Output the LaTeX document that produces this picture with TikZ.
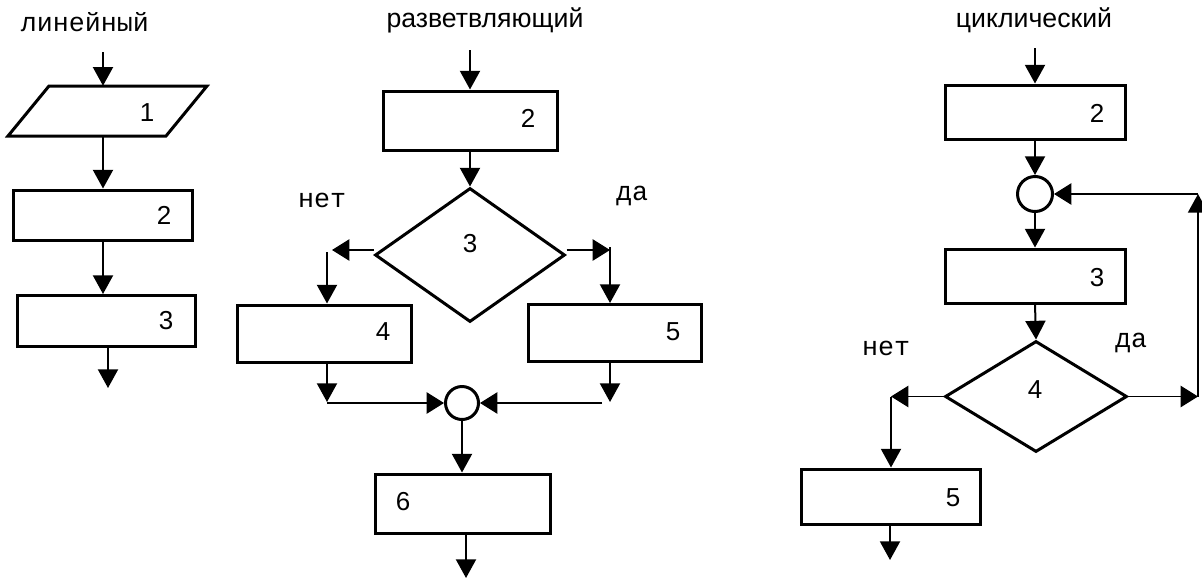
\documentclass[tikz,border=0pt]{standalone}
\usepackage{fontspec}
\setmainfont{Liberation Sans}
\newfontfamily\monofam{Liberation Mono}
\usetikzlibrary{arrows.meta,shapes.geometric}

\begin{document}
\begin{tikzpicture}[x=0.75pt,y=-0.75pt,
  box/.style={draw, line width=2.25pt, inner sep=0pt, line join=miter},
  sz/.style 2 args={minimum width=#1*0.75pt, minimum height=#2*0.75pt},
  num/.style={font=\fontsize{19.5}{22}\selectfont, inner sep=0pt},
  title/.style={font=\fontsize{20}{22}\selectfont, inner sep=0pt, anchor=base},
  yesno/.style={font=\monofam\fontsize{20}{22}\selectfont, inner sep=0pt, anchor=base},
  vline/.style={line width=1.5pt, -{Triangle[length=14pt,width=15pt]}},
  hline/.style={line width=1pt, -{Triangle[length=13pt,width=16pt]}},
  joint/.style={draw, circle, line width=2.25pt, inner sep=0pt}
]
\useasboundingbox (0,0) rectangle (1202,579);

% ---------- linear ----------
\node[yesno] (tlin) at (85,31.5) {линейный};
\coordinate (la) at (103,52);
\node[sz={158}{50}, inner sep=0pt] (p1) at (107.5,111) {};
\draw[line width=2.25pt, line join=miter] (49,86) -- (207,86) -- (166,136) -- (8,136) -- cycle;
\node[num] at (147,113) {1};
\draw[vline] (la) -- (la |- p1.north);
\node[box, sz={179}{50}] (l2) at (102.5,215) {};
\node[num] at (164,215) {2};
\draw[vline] (la |- p1.south) -- (la |- l2.north);
\node[box, sz={178}{51}] (l3) at (106.5,321) {};
\node[num] at (166,321) {3};
\draw[vline] (la |- l2.south) -- (la |- l3.north);
\coordinate (lz) at (108,388);
\draw[vline] (lz |- l3.south) -- (lz);

% ---------- branching ----------
\node[title] (tbr) at (485,27) {разветвляющий};
\coordinate (ma) at (470,50);
\node[box, sz={174}{59}] (m2) at (470,120.5) {};
\node[num] at (528,118) {2};
\draw[vline] (ma) -- (m2.north);
\node[box, diamond, sz={190}{134}] (m3) at (470,255) {};
\node[num] at (470,244) {3};
\draw[vline] (m2.south) -- (m3.north);
\node[yesno] at (322,207) {нет};
\node[yesno] at (632,200) {да};
% no branch
\coordinate (mLt) at (332,250);
\draw[hline] (m3.west |- mLt) -- (mLt);
\node[box, sz={174}{57}] (m4) at (324,333.5) {};
\node[num] at (383,332) {4};
\coordinate (mLv) at (327,252);
\draw[vline] (mLv) -- (mLv |- m4.north);
% yes branch
\coordinate (mRt) at (610,250);
\draw[hline] (m3.east |- mRt) -- (mRt);
\node[box, sz={173}{57}] (m5) at (615,333) {};
\node[num] at (673,332) {5};
\coordinate (mRv) at (610,247);
\draw[vline] (mRv) -- (mRv |- m5.north);
% merge point
\node[joint, minimum size=33*0.75pt] (mc) at (462,403) {};
\coordinate (m4d) at (327,402);
\draw[vline] (m4d |- m4.south) -- (m4d);
\draw[hline] (m4d |- mc.west) -- (mc.west);
\coordinate (m5d) at (610,402);
\draw[vline] (m5d |- m5.south) -- (m5d);
\coordinate (m5h) at (602,403);
\draw[hline] (m5h) -- (mc.east);
\node[box, sz={175}{59}] (m6) at (462.5,503.5) {};
\node[num] at (403,502) {6};
\draw[vline] (mc.south) -- (mc.south |- m6.north);
\coordinate (mz) at (466,578);
\draw[vline] (mz |- m6.south) -- (mz);

% ---------- cyclic ----------
\node[title] (tcy) at (1034,27) {циклический};
\coordinate (ca) at (1035,48);
\node[box, sz={180}{54}] (c2) at (1035,112) {};
\node[num] at (1097,113) {2};
\draw[vline] (ca) -- (c2.north);
\node[joint, minimum size=35*0.75pt] (cc) at (1035,194) {};
\draw[vline] (c2.south) -- (cc.north);
\node[box, sz={180}{54}] (c3) at (1035,276) {};
\node[num] at (1097,278) {3};
\draw[vline] (cc.south) -- (c3.north);
\node[box, diamond, sz={182}{111}] (c4) at (1036,396.5) {};
\node[num] at (1035,390) {4};
\draw[vline] (c3.south) -- (c4.north);
\node[yesno] at (886,355) {нет};
\node[yesno] at (1131,347) {да};
% loop back
\coordinate (cR) at (1198,396.5);
\coordinate (cT) at (1198,194);
\draw[hline] (c4.east) -- (cR);
\draw[vline] (cR) -- (cT);
\draw[hline] (cT) -- (cc.east);
% exit
\coordinate (cL) at (891,396.5);
\draw[hline] (c4.west) -- (cL);
\node[box, sz={179}{55}] (c5) at (890.5,496.5) {};
\node[num] at (953,498) {5};
\draw[vline] (cL) -- (cL |- c5.north);
\coordinate (cz) at (890,560);
\draw[vline] (cz |- c5.south) -- (cz);
\end{tikzpicture}
\end{document}
